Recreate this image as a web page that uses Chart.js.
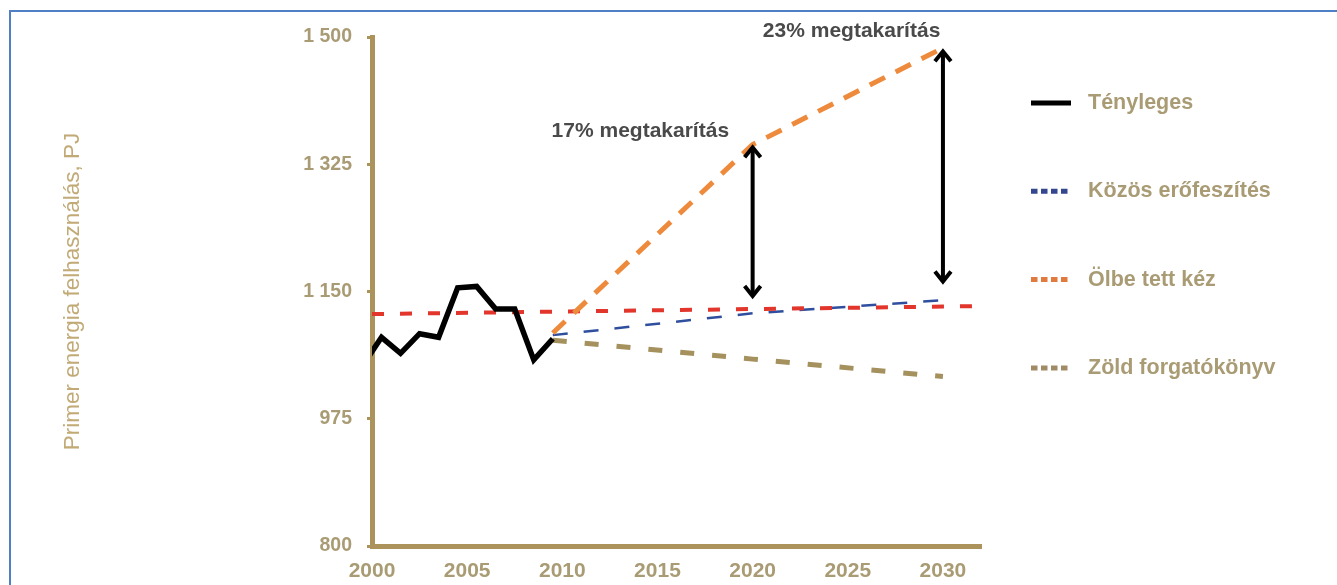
<!DOCTYPE html>
<html>
<head>
	<meta charset="utf-8">
	<title>Primer energia felhasználás</title>
	<script src="https://cdn.jsdelivr.net/npm/chart.js@4.4.1/dist/chart.umd.min.js"></script>
	<style>
		body { margin: 0; background: #fff; }
		#keret { position: relative; width: 1337px; height: 585px; overflow: hidden; }
		#vonal { position: absolute; left: 9px; top: 10px; right: -5px; bottom: -5px;
			border-top: 2px solid #4f80c6; border-left: 2px solid #4f80c6; pointer-events: none; }
	</style>
</head>
<body>
	<div id="keret">
		<canvas id="myChart" width="1337" height="585"></canvas>
		<div id="vonal"></div>
	</div>

	<script>

		// Tényleges adatok (PJ), évközépre rajzolva
		var evek = [1999, 2000, 2001, 2002, 2003, 2004, 2005, 2006, 2007, 2008, 2009];
		var tenyleges = [1048, 1087, 1065, 1092, 1087, 1155, 1157, 1126, 1126, 1056, 1085];

		// Forgatókönyvek
		var forgEvek = [2009.5, 2020, 2030];
		var kozos = [1090, 1120, 1138];
		var olbe = [1093, 1352, 1485];
		var zold = [1083, 1057, 1033];

		// vízszintes piros szaggatott vonal
		var celEvek = [2000, 2032];
		var cel = [1119, 1130];

		// megtakarítás nyilak és feliratok
		var nyilEvek = [2020, 2030];
		var nyilAlso = [1141, 1161];
		var nyilFelso = [1351, 1483];
		var feliratok = ['17% megtakarítás', '23% megtakarítás'];
		var feliratX = [2014.1, 2025.2];
		var feliratY = [1371, 1508];

		var yTicks = [800, 975, 1150, 1325, 1500];

		var jelmagyarazat = ['Tényleges', 'Közös erőfeszítés', 'Ölbe tett kéz', 'Zöld forgatókönyv'];
		var jelSzinek = ['#000000', '#34468e', '#e07a3f', '#a18a66'];

		var betu = "'Liberation Sans', Arial, sans-serif";
		var tengelySzin = '#ab935b';
		var szamSzin = '#a99b74';

		function pontok(xs, ys) {
			var out = [];
			for (var i = 0; i < xs.length; i++) out.push({x: xs[i], y: ys[i]});
			return out;
		}

		function tenyPontok() {
			var out = [];
			for (var i = 0; i < evek.length; i++) out.push({x: evek[i] + 0.5, y: tenyleges[i]});
			return out;
		}

		function ezres(v) {
			var s = String(v);
			return s.length > 3 ? s.slice(0, s.length - 3) + ' ' + s.slice(-3) : s;
		}

		// nyilak, feliratok, jelmagyarázat
		var rajzolo = {
			id: 'rajzolo',
			afterDatasetsDraw: function(chart) {
				var c = chart.ctx;
				var xs = chart.scales.x, ys = chart.scales.y;
				c.save();
				c.strokeStyle = '#000';
				c.lineWidth = 4;
				c.lineJoin = 'miter';
				for (var i = 0; i < nyilEvek.length; i++) {
					var x = xs.getPixelForValue(nyilEvek[i]);
					var y1 = ys.getPixelForValue(nyilFelso[i]);
					var y2 = ys.getPixelForValue(nyilAlso[i]);
					c.beginPath();
					c.moveTo(x, y1 + 2);
					c.lineTo(x, y2 - 2);
					c.stroke();
					c.beginPath();
					c.moveTo(x - 8, y1 + 12);
					c.lineTo(x, y1 + 2);
					c.lineTo(x + 8, y1 + 12);
					c.stroke();
					c.beginPath();
					c.moveTo(x - 8, y2 - 12);
					c.lineTo(x, y2 - 2);
					c.lineTo(x + 8, y2 - 12);
					c.stroke();
				}

				c.fillStyle = '#4a4a4a';
				c.font = 'bold 21px ' + betu;
				c.textAlign = 'center';
				c.textBaseline = 'middle';
				for (var k = 0; k < feliratok.length; k++) {
					c.fillText(feliratok[k], xs.getPixelForValue(feliratX[k]), ys.getPixelForValue(feliratY[k]));
				}
				c.restore();
			},
			afterDraw: function(chart) {
				var c = chart.ctx;
				c.save();
				c.font = 'bold 21.5px ' + betu;
				c.textAlign = 'left';
				c.textBaseline = 'middle';
				for (var i = 0; i < jelmagyarazat.length; i++) {
					var y = 103 + i * 88.3;
					c.strokeStyle = jelSzinek[i];
					c.lineWidth = 5;
					c.setLineDash(i === 0 ? [] : [6.5, 3.5]);
					c.beginPath();
					c.moveTo(1031, y);
					c.lineTo(1071, y);
					c.stroke();
					c.fillStyle = szamSzin;
					c.fillText(jelmagyarazat[i], 1088, y);
				}
				c.restore();
			}
		};

		var ctx = document.getElementById('myChart').getContext('2d');
		var chart = new Chart(ctx, {
			type: 'line',
			data: {
				datasets: [{
					label: 'Tényleges',
					data: tenyPontok(),
					borderColor: '#000000',
					borderWidth: 5.5,
					fill: false
				},
				{
					label: 'Ölbe tett kéz',
					data: pontok(forgEvek, olbe),
					borderColor: '#ee8a3c',
					borderWidth: 5,
					borderDash: [17, 12],
					fill: false
				},
				{
					label: 'Referencia',
					data: pontok(celEvek, cel),
					borderColor: '#e2352b',
					borderWidth: 4,
					borderDash: [12, 16],
					fill: false
				},
				{
					label: 'Közös erőfeszítés',
					data: pontok(forgEvek, kozos),
					borderColor: '#2f4f9e',
					borderWidth: 2.5,
					borderDash: [15, 16],
					fill: false
				},
				{
					label: 'Zöld forgatókönyv',
					data: pontok(forgEvek, zold),
					borderColor: '#a5915e',
					borderWidth: 5,
					borderDash: [14, 18],
					fill: false
				}]
			},
			options: {
				responsive: false,
				animation: false,
				layout: { padding: { top: 37, right: 356, left: 0, bottom: 0 } },
				elements: { point: { radius: 0 }, line: { tension: 0 } },
				plugins: {
					legend: { display: false },
					tooltip: { enabled: false }
				},
				scales: {
					x: {
						type: 'linear',
						min: 2000,
						max: 2032,
						border: { color: tengelySzin, width: 5 },
						grid: { display: false, drawTicks: false, tickLength: 0 },
						ticks: {
							stepSize: 5,
							includeBounds: false,
							padding: 13,
							color: szamSzin,
							font: { family: betu, size: 21, weight: 'bold' },
							callback: function(v) { return String(v); }
						},
						afterFit: function(scale) { scale.height = 39; }
					},
					y: {
						min: 800,
						max: 1500,
						border: { color: tengelySzin, width: 5 },
						grid: { drawOnChartArea: false, drawTicks: true, tickLength: 5, color: tengelySzin, lineWidth: 3 },
						afterBuildTicks: function(scale) {
							scale.ticks = yTicks.map(function(v) { return {value: v}; });
						},
						ticks: {
							padding: 15,
							color: szamSzin,
							font: { family: betu, size: 19.5, weight: 'bold' },
							callback: function(v) { return ezres(v); }
						},
						title: {
							display: true,
							text: 'Primer energia felhasználás, PJ',
							color: '#c2aa76',
							font: { family: betu, size: 22.5 },
							padding: { top: 59, bottom: 0 }
						},
						afterFit: function(scale) { scale.width = 372; }
					}
				}
			},
			plugins: [rajzolo]
		});

	</script>
</body>
</html>
